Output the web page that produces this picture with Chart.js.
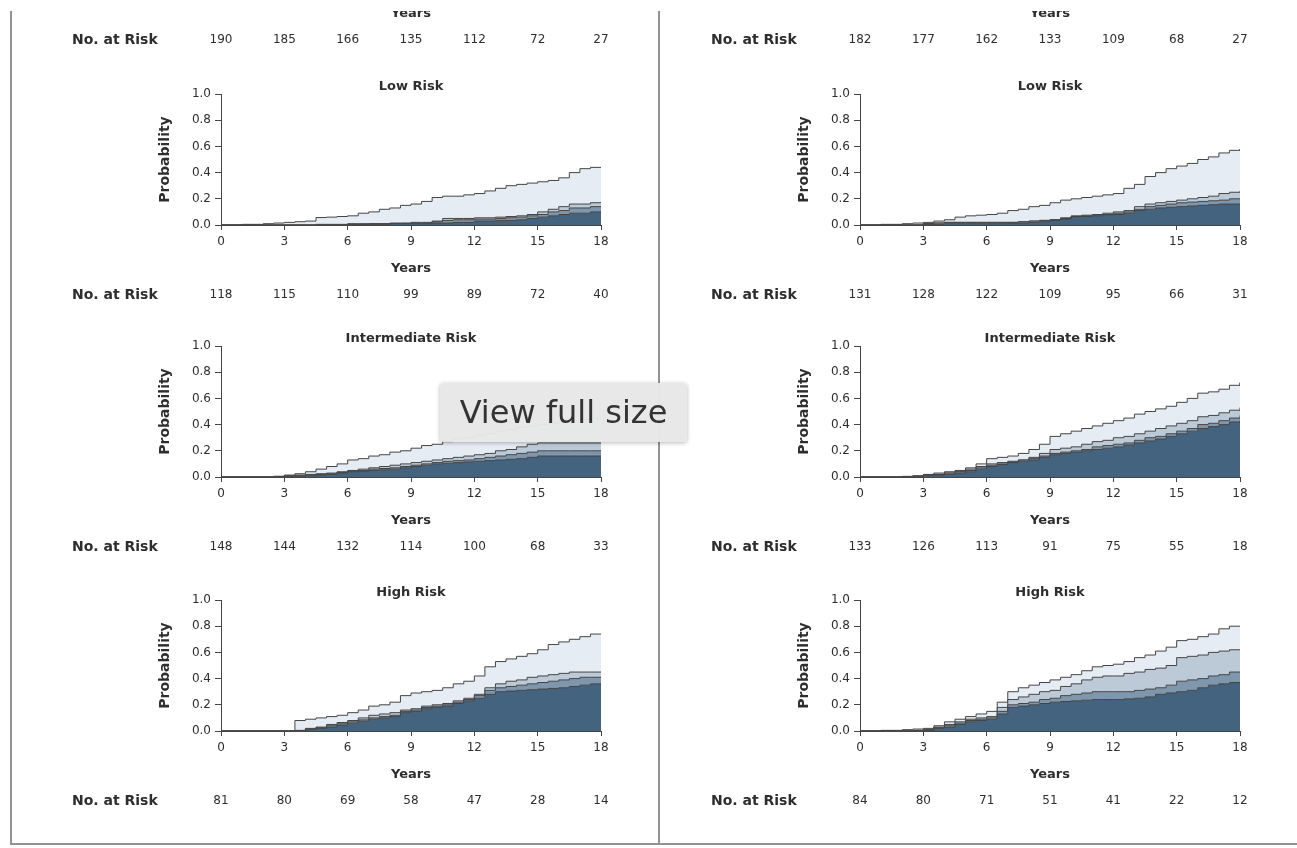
<!DOCTYPE html>
<html>
<head>
<meta charset="utf-8">
<script src="https://cdn.jsdelivr.net/npm/chart.js@4"></script>
<style>
  html, body { margin: 0; padding: 0; background: #fff; }
  body { width: 1297px; height: 848px; position: relative; overflow: hidden; }
  #figure { position: absolute; left: 0; top: 11px; width: 1297px; height: 834px; overflow: hidden; }
  #figure canvas { position: absolute; }
  .rule { position: absolute; background: #939393; }
  #viewFull {
    position: absolute; left: 440px; top: 383px; width: 247px; height: 59px;
    background: rgba(231, 231, 231, 0.96); border-radius: 4px;
    box-shadow: 0 1px 4px rgba(0, 0, 0, 0.28);
    font: 32px "DejaVu Sans", sans-serif; color: #333; line-height: 59px; text-align: center;
  }
</style>
</head>
<body>
<div id="figure">
  <canvas id="topLeft" width="560" height="245"></canvas>
  <canvas id="topRight" width="560" height="245"></canvas>
  <canvas id="lowLeft" width="560" height="245"></canvas>
  <canvas id="lowRight" width="560" height="245"></canvas>
  <canvas id="intLeft" width="560" height="245"></canvas>
  <canvas id="intRight" width="560" height="245"></canvas>
  <canvas id="highLeft" width="560" height="245"></canvas>
  <canvas id="highRight" width="560" height="245"></canvas>
</div>
<div class="rule" style="left:10px; top:11px; width:2px; height:834px;"></div>
<div class="rule" style="left:10px; top:843px; width:1287px; height:2px;"></div>
<div class="rule" style="left:658px; top:11px; width:2px; height:834px;"></div>
<div id="viewFull">View full size</div>

<script>
// time grid (years), half-year steps
const years = [0, 0.5, 1, 1.5, 2, 2.5, 3, 3.5, 4, 4.5, 5, 5.5, 6, 6.5, 7, 7.5, 8, 8.5, 9, 9.5,
    10, 10.5, 11, 11.5, 12, 12.5, 13, 13.5, 14, 14.5, 15, 15.5, 16, 16.5, 17, 17.5, 18];
const xTicks = [0, 3, 6, 9, 12, 15, 18];
const yTicks = [0, 0.2, 0.4, 0.6, 0.8, 1.0];

// numbers at risk (one per x tick)
const riskTopLeft = [190, 185, 166, 135, 112, 72, 27];
const riskTopRight = [182, 177, 162, 133, 109, 68, 27];
const riskLowLeft = [118, 115, 110, 99, 89, 72, 40];
const riskLowRight = [131, 128, 122, 109, 95, 66, 31];
const riskIntLeft = [148, 144, 132, 114, 100, 68, 33];
const riskIntRight = [133, 126, 113, 91, 75, 55, 18];
const riskHighLeft = [81, 80, 69, 58, 47, 28, 14];
const riskHighRight = [84, 80, 71, 51, 41, 22, 12];

// stacked cumulative probabilities, layer 1 (bottom) .. layer 4 (total)
const lowLeft1 = [0, 0, 0, 0, 0, 0, 0, 0, 0, 0, 0, 0, 0.005, 0.005, 0.005, 0.005, 0.01, 0.01, 0.01, 0.01,
    0.015, 0.015, 0.02, 0.02, 0.03, 0.03, 0.035, 0.035, 0.04, 0.05, 0.06, 0.07, 0.08, 0.09, 0.09, 0.10, 0.10];
const lowLeft2 = [0, 0, 0, 0, 0, 0, 0, 0, 0, 0, 0, 0, 0.005, 0.005, 0.01, 0.01, 0.01, 0.012, 0.015, 0.015,
    0.025, 0.035, 0.04, 0.04, 0.045, 0.045, 0.05, 0.055, 0.06, 0.07, 0.08, 0.10, 0.11, 0.13, 0.13, 0.14, 0.14];
const lowLeft3 = [0, 0, 0, 0, 0, 0, 0, 0, 0, 0.005, 0.005, 0.005, 0.01, 0.01, 0.01, 0.01, 0.015, 0.015, 0.02, 0.02,
    0.03, 0.05, 0.05, 0.05, 0.055, 0.055, 0.06, 0.065, 0.07, 0.08, 0.10, 0.12, 0.14, 0.16, 0.16, 0.17, 0.17];
const lowLeft4 = [0, 0, 0.005, 0.005, 0.01, 0.015, 0.02, 0.025, 0.03, 0.057, 0.06, 0.065, 0.07, 0.09, 0.10, 0.12, 0.13, 0.15, 0.16, 0.18,
    0.21, 0.22, 0.22, 0.23, 0.24, 0.26, 0.28, 0.30, 0.31, 0.32, 0.33, 0.34, 0.36, 0.40, 0.43, 0.44, 0.44];

const lowRight1 = [0, 0, 0, 0, 0, 0, 0.005, 0.005, 0.01, 0.01, 0.01, 0.01, 0.01, 0.01, 0.015, 0.015, 0.02, 0.025, 0.035, 0.045,
    0.06, 0.065, 0.07, 0.075, 0.08, 0.09, 0.11, 0.12, 0.13, 0.135, 0.14, 0.145, 0.15, 0.155, 0.16, 0.16, 0.16];
const lowRight2 = [0, 0, 0, 0, 0, 0, 0.01, 0.015, 0.02, 0.02, 0.02, 0.02, 0.02, 0.02, 0.02, 0.025, 0.03, 0.035, 0.04, 0.05,
    0.065, 0.07, 0.075, 0.08, 0.09, 0.10, 0.12, 0.14, 0.15, 0.16, 0.17, 0.175, 0.18, 0.185, 0.19, 0.20, 0.20];
const lowRight3 = [0, 0, 0, 0, 0, 0, 0.01, 0.015, 0.02, 0.02, 0.02, 0.02, 0.02, 0.02, 0.02, 0.025, 0.03, 0.035, 0.04, 0.055,
    0.07, 0.075, 0.08, 0.09, 0.10, 0.11, 0.14, 0.16, 0.17, 0.18, 0.19, 0.20, 0.21, 0.22, 0.24, 0.25, 0.26];
const lowRight4 = [0, 0, 0.005, 0.005, 0.01, 0.015, 0.02, 0.03, 0.04, 0.06, 0.07, 0.075, 0.08, 0.09, 0.11, 0.12, 0.14, 0.15, 0.17, 0.19,
    0.20, 0.21, 0.22, 0.23, 0.24, 0.28, 0.31, 0.37, 0.40, 0.43, 0.45, 0.47, 0.50, 0.52, 0.55, 0.57, 0.58];

const intLeft1 = [0, 0, 0, 0, 0, 0, 0.005, 0.005, 0.01, 0.015, 0.02, 0.03, 0.04, 0.045, 0.05, 0.055, 0.06, 0.07, 0.08, 0.09,
    0.10, 0.105, 0.11, 0.115, 0.12, 0.125, 0.13, 0.135, 0.14, 0.15, 0.16, 0.16, 0.16, 0.16, 0.16, 0.16, 0.16];
const intLeft2 = [0, 0, 0, 0, 0, 0, 0.005, 0.01, 0.015, 0.02, 0.025, 0.035, 0.045, 0.05, 0.06, 0.065, 0.07, 0.08, 0.09, 0.10,
    0.11, 0.12, 0.125, 0.13, 0.14, 0.15, 0.16, 0.17, 0.18, 0.19, 0.20, 0.20, 0.20, 0.20, 0.20, 0.20, 0.20];
const intLeft3 = [0, 0, 0, 0, 0, 0.005, 0.01, 0.015, 0.02, 0.025, 0.03, 0.04, 0.05, 0.06, 0.07, 0.08, 0.09, 0.10, 0.11, 0.12,
    0.13, 0.14, 0.15, 0.16, 0.17, 0.18, 0.20, 0.21, 0.23, 0.25, 0.26, 0.26, 0.26, 0.26, 0.26, 0.26, 0.26];
const intLeft4 = [0, 0, 0, 0, 0, 0.005, 0.015, 0.025, 0.04, 0.06, 0.08, 0.10, 0.13, 0.14, 0.16, 0.17, 0.19, 0.20, 0.22, 0.24,
    0.25, 0.27, 0.29, 0.30, 0.32, 0.33, 0.35, 0.36, 0.38, 0.39, 0.40, 0.41, 0.42, 0.43, 0.44, 0.45, 0.45];

const intRight1 = [0, 0, 0, 0, 0, 0, 0.01, 0.015, 0.02, 0.03, 0.04, 0.06, 0.08, 0.095, 0.11, 0.12, 0.13, 0.15, 0.17, 0.18,
    0.19, 0.20, 0.21, 0.22, 0.23, 0.245, 0.26, 0.275, 0.29, 0.31, 0.33, 0.35, 0.37, 0.385, 0.40, 0.42, 0.43];
const intRight2 = [0, 0, 0, 0, 0, 0.005, 0.015, 0.02, 0.03, 0.04, 0.05, 0.07, 0.09, 0.10, 0.115, 0.13, 0.14, 0.16, 0.18, 0.19,
    0.20, 0.21, 0.23, 0.24, 0.25, 0.26, 0.28, 0.30, 0.31, 0.33, 0.35, 0.37, 0.40, 0.41, 0.43, 0.45, 0.47];
const intRight3 = [0, 0, 0, 0, 0, 0.005, 0.015, 0.02, 0.03, 0.04, 0.06, 0.08, 0.10, 0.11, 0.12, 0.13, 0.15, 0.18, 0.21, 0.22,
    0.23, 0.25, 0.27, 0.28, 0.30, 0.31, 0.33, 0.35, 0.37, 0.39, 0.41, 0.43, 0.46, 0.47, 0.49, 0.51, 0.53];
const intRight4 = [0, 0, 0, 0, 0.005, 0.01, 0.02, 0.03, 0.04, 0.05, 0.07, 0.10, 0.14, 0.15, 0.16, 0.18, 0.21, 0.25, 0.31, 0.33,
    0.35, 0.37, 0.39, 0.41, 0.43, 0.45, 0.48, 0.50, 0.52, 0.54, 0.57, 0.60, 0.64, 0.65, 0.67, 0.70, 0.72];

const highLeft1 = [0, 0, 0, 0, 0, 0, 0, 0, 0.01, 0.02, 0.03, 0.045, 0.06, 0.075, 0.09, 0.10, 0.11, 0.14, 0.15, 0.17,
    0.18, 0.19, 0.21, 0.23, 0.25, 0.28, 0.30, 0.305, 0.31, 0.315, 0.32, 0.325, 0.33, 0.34, 0.35, 0.36, 0.36];
const highLeft2 = [0, 0, 0, 0, 0, 0, 0, 0, 0.015, 0.025, 0.04, 0.055, 0.07, 0.085, 0.10, 0.11, 0.12, 0.15, 0.16, 0.18,
    0.19, 0.20, 0.22, 0.24, 0.27, 0.31, 0.33, 0.34, 0.35, 0.36, 0.37, 0.38, 0.39, 0.40, 0.41, 0.41, 0.41];
const highLeft3 = [0, 0, 0, 0, 0, 0, 0, 0.005, 0.02, 0.03, 0.05, 0.065, 0.08, 0.10, 0.12, 0.13, 0.14, 0.16, 0.17, 0.19,
    0.20, 0.21, 0.23, 0.25, 0.28, 0.33, 0.36, 0.38, 0.39, 0.41, 0.42, 0.43, 0.44, 0.45, 0.45, 0.45, 0.45];
const highLeft4 = [0, 0, 0, 0, 0, 0, 0, 0.08, 0.09, 0.10, 0.11, 0.12, 0.14, 0.16, 0.19, 0.20, 0.22, 0.27, 0.29, 0.30,
    0.31, 0.33, 0.36, 0.38, 0.42, 0.49, 0.53, 0.55, 0.57, 0.59, 0.62, 0.66, 0.68, 0.70, 0.72, 0.74, 0.74];

const highRight1 = [0, 0, 0, 0, 0, 0, 0.005, 0.02, 0.03, 0.05, 0.07, 0.08, 0.09, 0.13, 0.18, 0.19, 0.20, 0.21, 0.22, 0.225,
    0.23, 0.235, 0.24, 0.24, 0.24, 0.245, 0.25, 0.26, 0.28, 0.29, 0.30, 0.31, 0.33, 0.35, 0.36, 0.37, 0.37];
const highRight2 = [0, 0, 0, 0, 0, 0, 0.01, 0.025, 0.04, 0.06, 0.08, 0.09, 0.10, 0.15, 0.20, 0.21, 0.22, 0.24, 0.25, 0.27,
    0.28, 0.29, 0.30, 0.30, 0.30, 0.30, 0.31, 0.32, 0.33, 0.35, 0.38, 0.39, 0.40, 0.42, 0.43, 0.45, 0.45];
const highRight3 = [0, 0, 0, 0, 0.005, 0.005, 0.01, 0.03, 0.05, 0.07, 0.09, 0.10, 0.11, 0.18, 0.24, 0.26, 0.28, 0.30, 0.31, 0.34,
    0.36, 0.39, 0.41, 0.42, 0.42, 0.44, 0.45, 0.47, 0.48, 0.50, 0.56, 0.57, 0.58, 0.60, 0.61, 0.62, 0.62];
const highRight4 = [0, 0, 0.005, 0.005, 0.01, 0.015, 0.02, 0.04, 0.07, 0.09, 0.11, 0.13, 0.15, 0.22, 0.30, 0.33, 0.35, 0.37, 0.39, 0.41,
    0.43, 0.46, 0.49, 0.50, 0.51, 0.53, 0.56, 0.58, 0.61, 0.64, 0.69, 0.70, 0.72, 0.74, 0.78, 0.80, 0.80];

const layerColors = ['#44637f', '#7f97ad', '#bccad8', '#e6ecf3'];
const textColor = '#2e2e2e';
const lineColor = '#454545';
const fontFamily = '"DejaVu Sans", sans-serif';

Chart.defaults.font.family = fontFamily;
Chart.defaults.color = textColor;

// title over the plot and the "No. at Risk" row under the axis
const riskRow = {
    id: 'riskRow',
    afterDraw(chart, args, opts) {
        const {ctx, chartArea, scales} = chart;
        ctx.save();
        ctx.fillStyle = textColor;
        ctx.textBaseline = 'middle';
        if (opts.title) {
            ctx.font = 'bold 13px ' + fontFamily;
            ctx.textAlign = 'center';
            ctx.fillText(opts.title, (chartArea.left + chartArea.right) / 2, chartArea.top - 7);
        }
        const y = chartArea.bottom + 70;
        ctx.font = 'bold 14px ' + fontFamily;
        ctx.textAlign = 'left';
        ctx.fillText('No. at Risk', chartArea.left - 149, y);
        ctx.font = '12px ' + fontFamily;
        ctx.textAlign = 'center';
        opts.counts.forEach((n, i) => {
            ctx.fillText(String(n), scales.x.getPixelForValue(xTicks[i]), y);
        });
        ctx.restore();
    }
};

function layers(curves) {
    if (!curves) return [];
    const sets = curves.map((arr, k) => ({
        data: years.map((t, i) => ({x: t, y: arr[i]})),
        fill: k === 0 ? 'origin' : '-1',
        backgroundColor: layerColors[k],
    }));
    const total = curves[curves.length - 1];
    const end = years[years.length - 1];
    sets.push({
        data: [{x: end, y: 0}, {x: end, y: total[total.length - 1]}],
        fill: false,
    });
    return sets.map(d => Object.assign({
        stepped: true,
        borderColor: lineColor,
        borderWidth: 1,
        pointRadius: 0,
    }, d));
}

function makeChart(id, left, top, title, counts, curves) {
    const el = document.getElementById(id);
    el.style.left = left + 'px';
    el.style.top = (top - 11) + 'px';
    return new Chart(el, {
        type: 'line',
        data: {datasets: layers(curves)},
        plugins: [riskRow],
        options: {
            responsive: false,
            animation: false,
            events: [],
            layout: {padding: {left: 90, right: 19, top: 24, bottom: 4}},
            plugins: {
                legend: {display: false},
                tooltip: {enabled: false},
                riskRow: {title: title, counts: counts}
            },
            scales: {
                x: {
                    type: 'linear',
                    min: 0,
                    max: 18,
                    afterBuildTicks: s => { s.ticks = xTicks.map(v => ({value: v})); },
                    afterFit: s => { s.height = 86; },
                    border: {display: true, color: lineColor, width: 1},
                    grid: {drawOnChartArea: false, drawTicks: true, tickLength: 5, color: lineColor},
                    ticks: {padding: 5, maxRotation: 0, autoSkip: false, font: {size: 12}},
                    title: {
                        display: true,
                        text: 'Years',
                        font: {size: 13, weight: 'bold'},
                        padding: {top: 2, bottom: 35}
                    }
                },
                y: {
                    type: 'linear',
                    min: 0,
                    max: 1,
                    afterBuildTicks: s => { s.ticks = yTicks.map(v => ({value: v})); },
                    afterFit: s => { s.width = 71; },
                    border: {display: true, color: lineColor, width: 1},
                    grid: {drawOnChartArea: false, drawTicks: true, tickLength: 6, color: lineColor},
                    ticks: {padding: 4, font: {size: 12}, callback: v => v.toFixed(1)},
                    title: {
                        display: true,
                        text: 'Probability',
                        font: {size: 14, weight: 'bold'},
                        padding: {top: 7, bottom: 0}
                    }
                }
            }
        }
    });
}

// the panel above is cut off: only its Years label and numbers at risk show
makeChart('topLeft', 60, -185, '', riskTopLeft, null);
makeChart('topRight', 699, -185, '', riskTopRight, null);

makeChart('lowLeft', 60, 70, 'Low Risk', riskLowLeft, [lowLeft1, lowLeft2, lowLeft3, lowLeft4]);
makeChart('lowRight', 699, 70, 'Low Risk', riskLowRight, [lowRight1, lowRight2, lowRight3, lowRight4]);
makeChart('intLeft', 60, 322, 'Intermediate Risk', riskIntLeft, [intLeft1, intLeft2, intLeft3, intLeft4]);
makeChart('intRight', 699, 322, 'Intermediate Risk', riskIntRight, [intRight1, intRight2, intRight3, intRight4]);
makeChart('highLeft', 60, 576, 'High Risk', riskHighLeft, [highLeft1, highLeft2, highLeft3, highLeft4]);
makeChart('highRight', 699, 576, 'High Risk', riskHighRight, [highRight1, highRight2, highRight3, highRight4]);
</script>
</body>
</html>
